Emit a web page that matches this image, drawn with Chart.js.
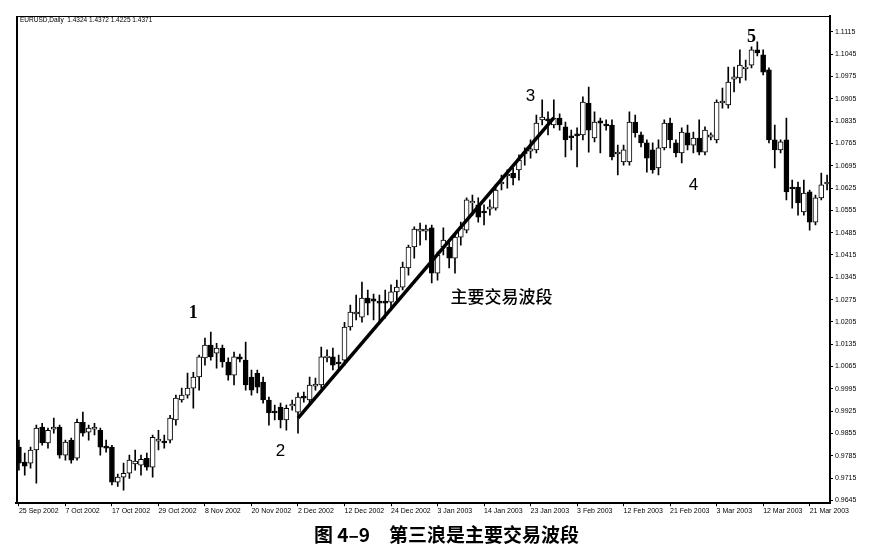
<!DOCTYPE html>
<html>
<head>
<meta charset="utf-8">
<script src="https://cdn.jsdelivr.net/npm/chart.js@4.4.1/dist/chart.umd.min.js"></script>
<style>
  html, body { margin: 0; padding: 0; background: #fff; }
  #wrap { width: 877px; height: 550px; }
</style>
</head>
<body>
<div id="wrap"><canvas id="eurusd-chart" width="877" height="550"></canvas></div>
<script>
// EURUSD daily, 25 Sep 2002 - Mar 2003 (one entry per bar)
var opens = [
  0.9812, 0.9765, 0.9762, 0.9803, 0.9875, 0.9825, 0.9868, 0.9875, 0.9787, 0.9834,
  0.9777, 0.9890, 0.9859, 0.9868, 0.9865, 0.9815, 0.9812, 0.9702, 0.9718, 0.9730,
  0.9759, 0.9755, 0.9777, 0.9749, 0.9831, 0.9831, 0.9834, 0.9897, 0.9960, 0.9975,
  0.9997, 1.0032, 1.0092, 1.0132, 1.0107, 1.0123, 1.0079, 1.0038, 1.0095, 1.0085,
  1.0032, 1.0044, 1.0016, 0.9960, 0.9925, 0.9938, 0.9897, 0.9941, 0.9922, 0.9972,
  0.9960, 1.0003, 1.0007, 1.0092, 1.0095, 1.0079, 1.0085, 1.0189, 1.0230, 1.0220,
  1.0280, 1.0277, 1.0270, 1.0270, 1.0267, 1.0299, 1.0314, 1.0374, 1.0440, 1.0490,
  1.0490, 1.0500, 1.0358, 1.0440, 1.0440, 1.0405, 1.0471, 1.0493, 1.0578, 1.0572,
  1.0553, 1.0559, 1.0562, 1.0638, 1.0663, 1.0672, 1.0682, 1.0732, 1.0741, 1.0745,
  1.0839, 1.0842, 1.0823, 1.0845, 1.0817, 1.0789, 1.0795, 1.0792, 1.0892, 1.0782,
  1.0836, 1.0826, 1.0823, 1.0732, 1.0707, 1.0707, 1.0832, 1.0792, 1.0767, 1.0745,
  1.0688, 1.0751, 1.0829, 1.0767, 1.0735, 1.0798, 1.0760, 1.0782, 1.0738, 1.0785,
  1.0776, 1.0892, 1.0886, 1.0967, 1.0971, 1.0999, 1.1011, 1.1059, 1.1043, 1.0996,
  1.0776, 1.0745, 1.0776, 1.0628, 1.0628, 1.0550, 1.0613, 1.0518, 1.0594, 1.0638
];
var highs = [
  0.9834, 0.9793, 0.9812, 0.9881, 0.9887, 0.9872, 0.9903, 0.9881, 0.9834, 0.9840,
  0.9900, 0.9922, 0.9881, 0.9887, 0.9872, 0.9834, 0.9818, 0.9727, 0.9762, 0.9787,
  0.9803, 0.9787, 0.9793, 0.9850, 0.9865, 0.9850, 0.9912, 0.9975, 0.9997, 1.0044,
  1.0047, 1.0101, 1.0154, 1.0173, 1.0138, 1.0132, 1.0092, 1.0110, 1.0104, 1.0142,
  1.0054, 1.0054, 1.0032, 0.9969, 0.9944, 0.9950, 0.9944, 0.9960, 0.9982, 0.9985,
  1.0032, 1.0029, 1.0126, 1.0117, 1.0123, 1.0101, 1.0204, 1.0258, 1.0289, 1.0330,
  1.0305, 1.0292, 1.0289, 1.0305, 1.0321, 1.0336, 1.0393, 1.0446, 1.0503, 1.0515,
  1.0509, 1.0509, 1.0424, 1.0500, 1.0456, 1.0484, 1.0518, 1.0594, 1.0603, 1.0594,
  1.0572, 1.0588, 1.0635, 1.0666, 1.0682, 1.0688, 1.0729, 1.0751, 1.0776, 1.0854,
  1.0902, 1.0864, 1.0902, 1.0858, 1.0832, 1.0807, 1.0814, 1.0911, 1.0942, 1.0864,
  1.0845, 1.0839, 1.0839, 1.0760, 1.0760, 1.0864, 1.0854, 1.0801, 1.0776, 1.0767,
  1.0776, 1.0839, 1.0845, 1.0776, 1.0814, 1.0823, 1.0801, 1.0839, 1.0817, 1.0798,
  1.0902, 1.0939, 1.1005, 1.1005, 1.1059, 1.1027, 1.1068, 1.1084, 1.1059, 1.1002,
  1.0823, 1.0776, 1.0845, 1.0650, 1.0644, 1.0650, 1.0619, 1.0603, 1.0672, 1.0666
];
var lows = [
  0.9740, 0.9724, 0.9746, 0.9699, 0.9818, 0.9809, 0.9856, 0.9777, 0.9771, 0.9762,
  0.9771, 0.9846, 0.9834, 0.9850, 0.9787, 0.9796, 0.9693, 0.9689, 0.9677, 0.9714,
  0.9740, 0.9724, 0.9740, 0.9718, 0.9803, 0.9809, 0.9825, 0.9881, 0.9953, 0.9966,
  0.9934, 0.9991, 1.0069, 1.0085, 1.0060, 1.0063, 1.0022, 1.0007, 1.0079, 0.9991,
  0.9975, 0.9982, 0.9950, 0.9881, 0.9897, 0.9872, 0.9865, 0.9928, 0.9856, 0.9953,
  0.9944, 0.9991, 0.9997, 1.0079, 1.0054, 1.0054, 1.0069, 1.0179, 1.0211, 1.0204,
  1.0227, 1.0211, 1.0204, 1.0217, 1.0242, 1.0274, 1.0305, 1.0352, 1.0405, 1.0446,
  1.0462, 1.0327, 1.0336, 1.0415, 1.0374, 1.0358, 1.0446, 1.0484, 1.0540, 1.0518,
  1.0509, 1.0540, 1.0556, 1.0619, 1.0625, 1.0635, 1.0650, 1.0697, 1.0719, 1.0735,
  1.0823, 1.0792, 1.0814, 1.0807, 1.0723, 1.0745, 1.0691, 1.0776, 1.0738, 1.0770,
  1.0735, 1.0807, 1.0713, 1.0666, 1.0697, 1.0697, 1.0785, 1.0754, 1.0675, 1.0672,
  1.0666, 1.0745, 1.0751, 1.0723, 1.0704, 1.0745, 1.0735, 1.0729, 1.0729, 1.0776,
  1.0767, 1.0876, 1.0876, 1.0927, 1.0955, 1.0964, 1.1002, 1.1040, 1.0980, 1.0767,
  1.0688, 1.0735, 1.0588, 1.0562, 1.0540, 1.0540, 1.0493, 1.0509, 1.0588, 1.0619
];
var closes = [
  0.9762, 0.9752, 0.9803, 0.9872, 0.9825, 0.9865, 0.9875, 0.9787, 0.9828, 0.9771,
  0.9890, 0.9856, 0.9872, 0.9875, 0.9812, 0.9809, 0.9702, 0.9718, 0.9730, 0.9771,
  0.9768, 0.9774, 0.9749, 0.9843, 0.9837, 0.9825, 0.9903, 0.9966, 0.9975, 0.9997,
  1.0032, 1.0095, 1.0132, 1.0095, 1.0123, 1.0079, 1.0038, 1.0095, 1.0088, 1.0007,
  0.9991, 1.0000, 0.9960, 0.9919, 0.9919, 0.9897, 0.9934, 0.9947, 0.9969, 0.9966,
  1.0007, 1.0010, 1.0095, 1.0098, 1.0069, 1.0073, 1.0189, 1.0236, 1.0236, 1.0280,
  1.0264, 1.0270, 1.0264, 1.0264, 1.0299, 1.0314, 1.0377, 1.0440, 1.0496, 1.0496,
  1.0496, 1.0358, 1.0415, 1.0462, 1.0405, 1.0471, 1.0500, 1.0588, 1.0584, 1.0534,
  1.0547, 1.0566, 1.0619, 1.0644, 1.0669, 1.0657, 1.0713, 1.0738, 1.0748, 1.0829,
  1.0848, 1.0836, 1.0845, 1.0823, 1.0776, 1.0782, 1.0789, 1.0895, 1.0807, 1.0832,
  1.0829, 1.0820, 1.0723, 1.0738, 1.0745, 1.0832, 1.0798, 1.0767, 1.0719, 1.0682,
  1.0751, 1.0829, 1.0776, 1.0735, 1.0801, 1.0760, 1.0782, 1.0738, 1.0807, 1.0792,
  1.0895, 1.0898, 1.0958, 1.0974, 1.1011, 1.1005, 1.1059, 1.1049, 1.0989, 1.0776,
  1.0745, 1.0770, 1.0613, 1.0622, 1.0578, 1.0609, 1.0518, 1.0594, 1.0635, 1.0644
];

// date labels shown under the axis, one every 8 bars
var dateLabels = ['25 Sep 2002', '7 Oct 2002', '17 Oct 2002', '29 Oct 2002', '8 Nov 2002',
  '20 Nov 2002', '2 Dec 2002', '12 Dec 2002', '24 Dec 2002', '3 Jan 2003', '14 Jan 2003',
  '23 Jan 2003', '3 Feb 2003', '12 Feb 2003', '21 Feb 2003', '3 Mar 2003', '12 Mar 2003',
  '21 Mar 2003'];
var labelEvery = 8;

var priceTicks = [1.1115, 1.1045, 1.0975, 1.0905, 1.0835, 1.0765, 1.0695, 1.0625, 1.0555,
  1.0485, 1.0415, 1.0345, 1.0275, 1.0205, 1.0135, 1.0065, 0.9995, 0.9925, 0.9855,
  0.9785, 0.9715, 0.9645];

// wave 2 -> wave 3 trend line (bar index, price)
var trendBars = [48, 92];
var trendPrices = [0.9903, 1.0845];

// wave counts and note
var waveLabels = [
  { text: '1', bar: 30, price: 1.0233, serif: true },
  { text: '2', bar: 45, price: 0.9800, serif: false },
  { text: '3', bar: 88, price: 1.0914, serif: false },
  { text: '4', bar: 116, price: 1.0635, serif: false },
  { text: '5', bar: 126, price: 1.1099, serif: true }
];
var noteText = { text: '主要交易波段', bar: 83, price: 1.0283 };

var wicks = highs.map(function (h, i) { return { x: i, y: [lows[i], h] }; });
var bodies = opens.map(function (o, i) { return { x: i, y: [o, closes[i]] }; });
var bodyColors = opens.map(function (o, i) { return closes[i] >= o ? '#ffffff' : '#000000'; });
var trend = trendBars.map(function (b, i) { return { x: b, y: trendPrices[i] }; });

var frameAndText = {
  id: 'frameAndText',
  afterDatasetsDraw: function (chart) {
    var ctx = chart.ctx, a = chart.chartArea;
    var xs = chart.scales.x, ys = chart.scales.y;
    ctx.save();
    ctx.strokeStyle = '#000';
    ctx.lineWidth = 1;
    ctx.beginPath();
    ctx.moveTo(a.left, a.top + 0.5);
    ctx.lineTo(a.right, a.top + 0.5);
    ctx.stroke();
    ctx.lineWidth = 2;
    ctx.beginPath();
    ctx.moveTo(a.left + 1, a.top);
    ctx.lineTo(a.left + 1, a.bottom);
    ctx.stroke();

    ctx.fillStyle = '#000';
    ctx.font = '6.5px "Liberation Sans"';
    ctx.textAlign = 'left';
    ctx.textBaseline = 'middle';
    ctx.fillText('EURUSD,Daily  1.4324 1.4372 1.4225 1.4371', a.left + 4, a.top + 4);

    ctx.textAlign = 'center';
    waveLabels.forEach(function (w) {
      ctx.font = w.serif ? 'bold 18px "Liberation Serif"' : '17px "Liberation Sans"';
      ctx.fillText(w.text, xs.getPixelForValue(w.bar), ys.getPixelForValue(w.price));
    });
    ctx.font = '500 17px "Noto Sans CJK SC"';
    ctx.fillText(noteText.text, xs.getPixelForValue(noteText.bar), ys.getPixelForValue(noteText.price));
    ctx.restore();
  }
};

var ctx = document.getElementById('eurusd-chart');
new Chart(ctx, {
  type: 'bar',
  data: {
    datasets: [{
      type: 'line',
      label: 'Trend',
      data: trend,
      borderColor: '#000',
      borderWidth: 3.5,
      pointRadius: 0,
      order: 0
    }, {
      label: 'Body',
      data: bodies,
      backgroundColor: bodyColors,
      borderColor: '#000',
      borderWidth: 1,
      borderSkipped: false,
      barThickness: 5,
      grouped: false,
      order: 1
    }, {
      label: 'Wick',
      data: wicks,
      backgroundColor: '#000',
      barThickness: 1,
      grouped: false,
      order: 2
    }]
  },
  options: {
    responsive: false,
    animation: false,
    layout: { padding: { top: 16, left: 16, right: 0, bottom: 0 } },
    plugins: {
      legend: { display: false },
      tooltip: { enabled: false },
      title: {
        display: true,
        position: 'bottom',
        text: '图 4–9\u3000第三浪是主要交易波段',
        color: '#000',
        font: { family: '"Noto Sans CJK SC"', size: 19, weight: 'bold' },
        padding: { top: 9, bottom: 4 }
      }
    },
    scales: {
      x: {
        type: 'linear',
        offset: false,
        min: -0.5,
        max: opens.length - 0.5,
        afterFit: function (scale) { scale.height = 11; },
        afterBuildTicks: function (scale) {
          scale.ticks = dateLabels.map(function (d, k) { return { value: k * labelEvery }; });
        },
        ticks: {
          autoSkip: false,
          maxRotation: 0,
          align: 'start',
          padding: 1,
          color: '#000',
          font: { family: '"Liberation Sans"', size: 7 },
          callback: function (v) { return dateLabels[Math.round(v / labelEvery)]; }
        },
        grid: { offset: false, drawOnChartArea: false, drawTicks: true, tickLength: 3, color: '#000' },
        border: { display: true, color: '#000', width: 2 }
      },
      y: {
        position: 'right',
        min: 0.9636,
        max: 1.1165,
        afterFit: function (scale) { scale.width = 47; },
        afterBuildTicks: function (scale) {
          scale.ticks = priceTicks.map(function (p) { return { value: p }; });
        },
        ticks: {
          padding: 2,
          color: '#000',
          font: { family: '"Liberation Sans"', size: 7 },
          callback: function (v) { return v.toFixed(4); }
        },
        grid: { drawOnChartArea: false, drawTicks: true, tickLength: 3, color: '#000' },
        border: { display: true, color: '#000', width: 2 }
      }
    }
  },
  plugins: [frameAndText]
});
</script>
</body>
</html>
